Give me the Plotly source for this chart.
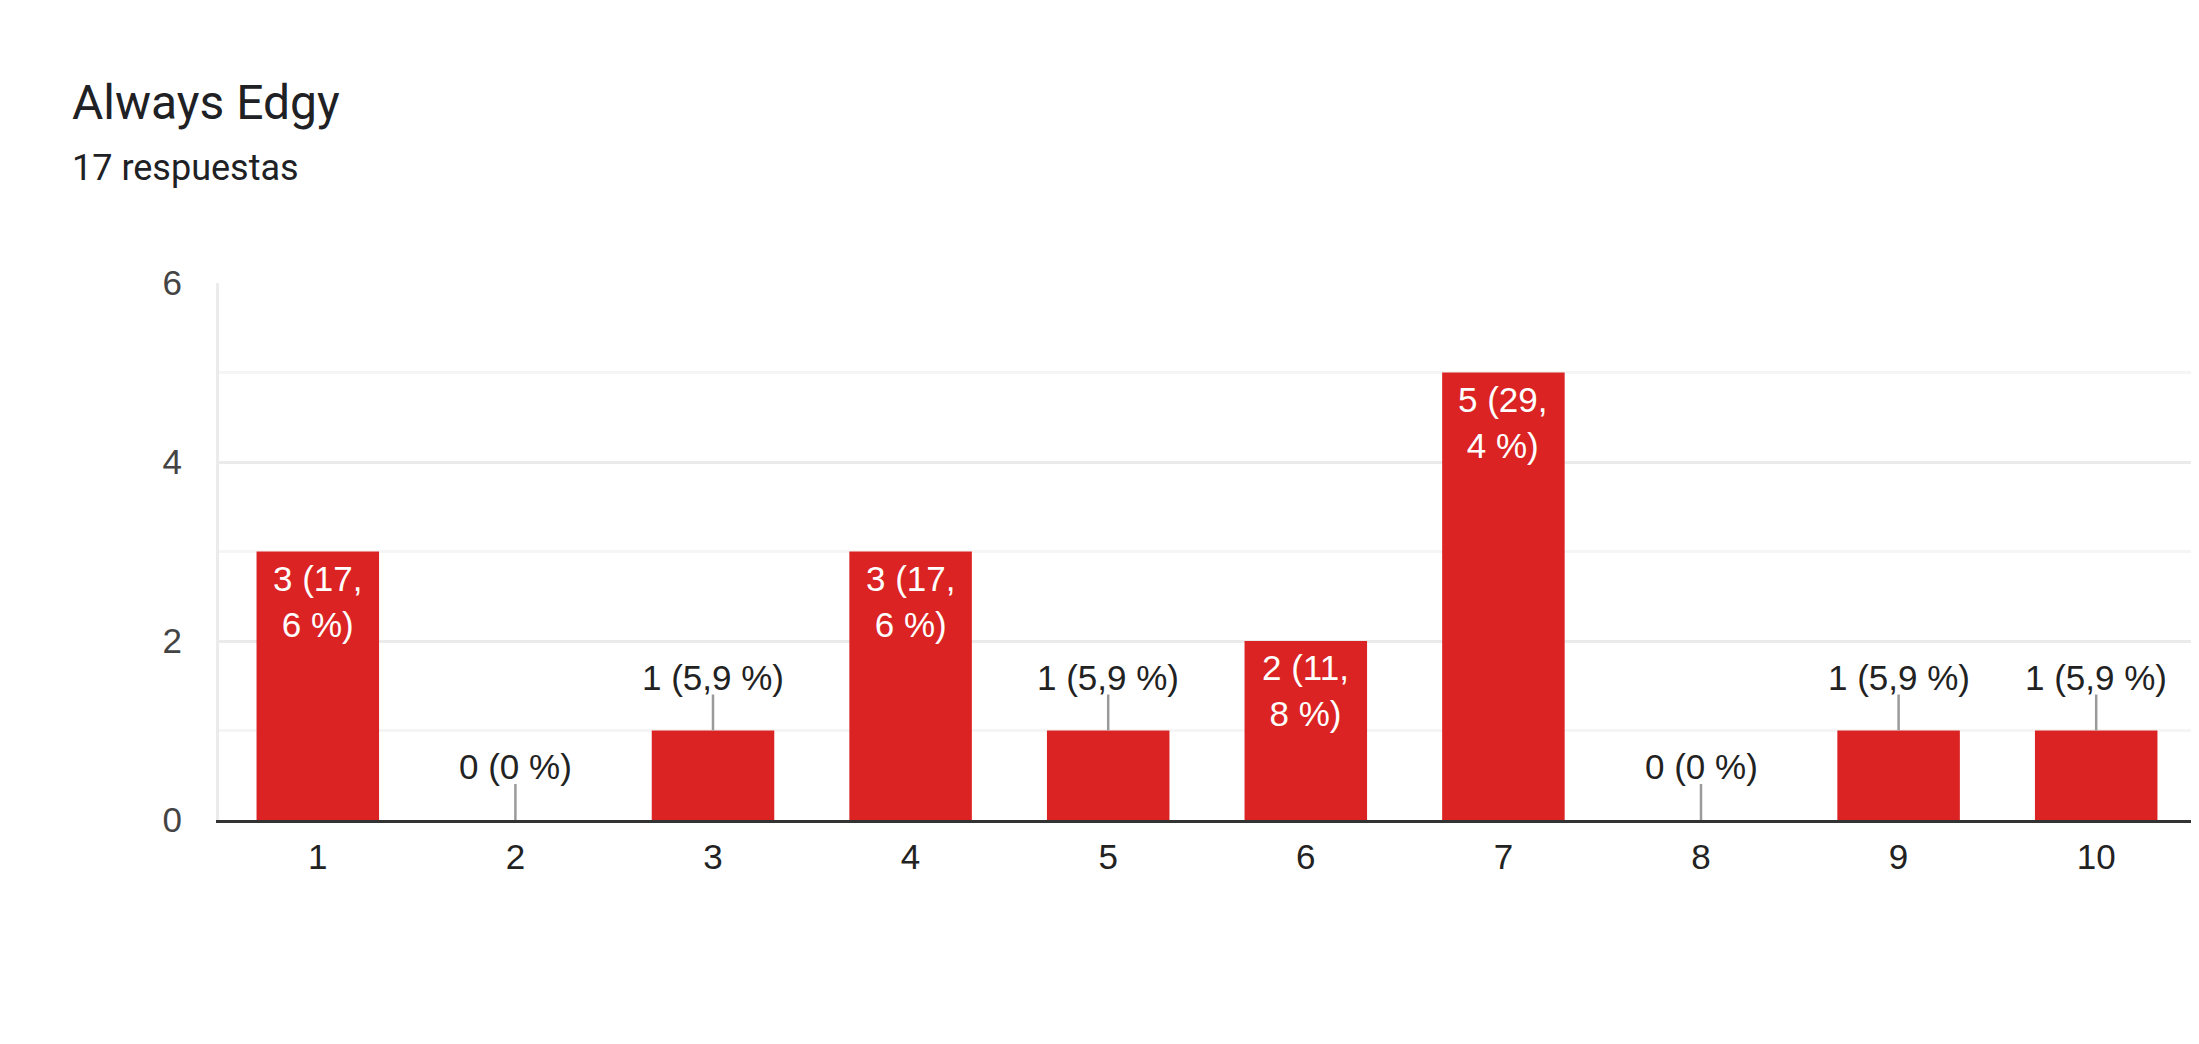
import plotly.graph_objects as go

title = "Always Edgy"
subtitle = "17 respuestas"
categories = [1, 2, 3, 4, 5, 6, 7, 8, 9, 10]
tick_labels = ["1", "2", "3", "4", "5", "6", "7", "8", "9", "10"]
counts = [3, 0, 1, 3, 1, 2, 5, 0, 1, 1]
total = 17
y_ticks = [0, 2, 4, 6]

BAR = "#db2323"
FONT = "Arial, Liberation Sans, sans-serif"
FS = 35

# page body has an 8px margin: the figure starts at (8, 8)
OFF = 8
W, H = 2191, 1028
L, R, T, B = 219 - OFF, W + OFF - 2198, 283 - OFF, (H + OFF) - 820
plot_w = W - L - R
plot_h = H - T - B

def pct(c):
    p = round(100.0 * c / total, 1)
    s = ("%.1f" % p).replace(".", ",")
    if s.endswith(",0"):
        s = s[:-2]
    return s

fig = go.Figure()
fig.add_trace(go.Bar(x=categories, y=counts, marker=dict(color=BAR, line=dict(width=0)),
                     width=0.62, hoverinfo="skip"))

annotations = []
shapes = []
for cat, c in zip(categories, counts):
    p = pct(c)
    if c >= 2:
        parts = p.split(",")
        txt = "%d (%s,<br>%s %%)" % (c, parts[0], parts[1])
        annotations.append(dict(x=cat, y=c, xref="x", yref="y", text=txt, showarrow=False,
                                yanchor="top", xanchor="center", yshift=-5,
                                font=dict(family=FONT, size=FS, color="#ffffff")))
    else:
        txt = "%d (%s %%)" % (c, p)
        annotations.append(dict(x=cat, y=c, xref="x", yref="y", text=txt, showarrow=False,
                                yanchor="bottom", xanchor="center", yshift=32,
                                font=dict(family=FONT, size=FS, color="#222222")))
        shapes.append(dict(type="line", xref="x", yref="y", x0=cat, x1=cat,
                           ysizemode="pixel", yanchor=c, y0=0, y1=36,
                           line=dict(color="#9a9a9a", width=2.5)))

annotations.append(dict(xref="paper", yref="paper", x=(70 - 219) / plot_w, y=(820 - 103) / plot_h,
                        xanchor="left", yanchor="middle", text=title, showarrow=False,
                        font=dict(family="Roboto", size=48, color="#202124")))
annotations.append(dict(xref="paper", yref="paper", x=(70 - 219) / plot_w, y=(820 - 168) / plot_h,
                        xanchor="left", yanchor="middle", text=subtitle, showarrow=False,
                        font=dict(family="Roboto", size=36, color="#202124")))

fig.update_layout(
    width=W, height=H,
    margin=dict(l=L, r=R, t=T, b=B, pad=0),
    paper_bgcolor="white", plot_bgcolor="white",
    showlegend=False,
    annotations=annotations,
    shapes=shapes,
    xaxis=dict(range=[0.5, 10.5], tickvals=categories, ticktext=tick_labels,
               showgrid=False, showline=True, linecolor="#333333", linewidth=3,
               ticks="", ticklabelstandoff=4,
               tickfont=dict(family=FONT, size=FS, color="#222222"), zeroline=False),
    yaxis=dict(range=[0, 6], tickvals=y_ticks, showgrid=True, gridcolor="#ebebeb", gridwidth=3,
               showline=True, linecolor="#ebebeb", linewidth=3, mirror=True,
               minor=dict(dtick=1, showgrid=True, gridcolor="#f5f5f5", gridwidth=3),
               ticks="", ticklabelstandoff=27, zeroline=False,
               tickfont=dict(family=FONT, size=FS, color="#444444")),
)

fig.write_html("out.html")
